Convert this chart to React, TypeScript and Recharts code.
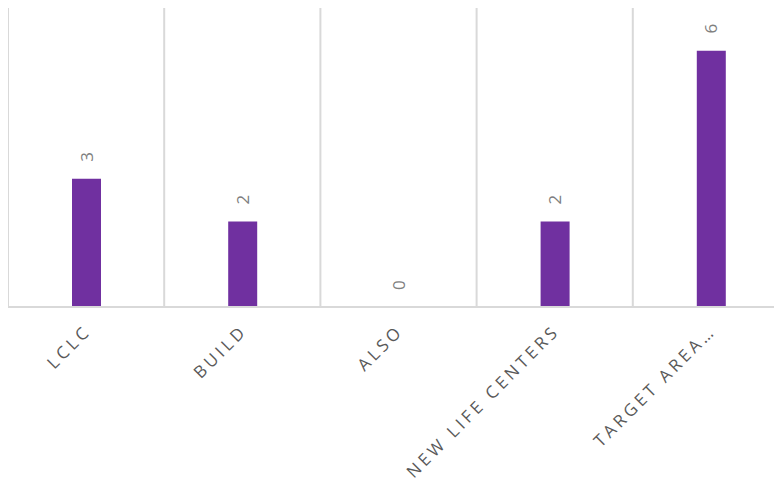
import React from "react";
import { ComposedChart, Bar, Line, XAxis, YAxis, ReferenceLine, LabelList } from "recharts";

const categories = ["LCLC", "BUILD", "ALSO", "NEW LIFE CENTERS", "TARGET AREA…"];
const counts = [3, 2, 0, 2, 6];

const data = categories.map((name, i) => ({ name, count: counts[i] }));

const gridColor = "#d9d9d9";
const barColor = "#7030a0";

// no scrollbars: the plot runs past the right edge on purpose
if (typeof document !== "undefined") {
  document.documentElement.style.overflow = "hidden";
}

const CategoryTick = (props: any) => {
  const { x, y, payload } = props;
  return (
    <g transform={`translate(${x + 6},${y + 17})`}>
      <text
        transform="rotate(-45)"
        textAnchor="end"
        fill="#595959"
        fontSize={17}
        fontFamily="'Open Sans', sans-serif"
        letterSpacing={3.6}
      >
        {payload.value}
      </text>
    </g>
  );
};

// labels hang off an invisible line so the zero value still gets one
const ValueLabel = (props: any) => {
  const { x, y, value } = props;
  const cx = x;
  const cy = y - 22;
  return (
    <text
      x={cx}
      y={cy}
      transform={`rotate(-90,${cx},${cy})`}
      textAnchor="middle"
      dominantBaseline="central"
      fill="#7f7f7f"
      fontSize={17}
      fontFamily="'Open Sans', sans-serif"
    >
      {value}
    </text>
  );
};

export default function App() {
  return (
    <div style={{ width: 781, height: 475 }}>
      <ComposedChart
        width={781}
        height={483}
        data={data}
        margin={{ top: 0, right: 0, bottom: 0, left: 0 }}
      >
        <YAxis hide domain={[0, 7]} />
        <XAxis
          dataKey="name"
          height={184}
          interval={0}
          tickLine={false}
          axisLine={false}
          tick={<CategoryTick />}
        />
        <ReferenceLine y={0} stroke={gridColor} strokeWidth={2} />
        {categories.map((c) => (
          <ReferenceLine key={c} x={c} position="start" stroke={gridColor} strokeWidth={2} />
        ))}
        <Bar dataKey="count" fill={barColor} barSize={29} isAnimationActive={false} />
        <Line dataKey="count" stroke="none" dot={false} activeDot={false} isAnimationActive={false}>
          <LabelList dataKey="count" content={<ValueLabel />} />
        </Line>
      </ComposedChart>
    </div>
  );
}
